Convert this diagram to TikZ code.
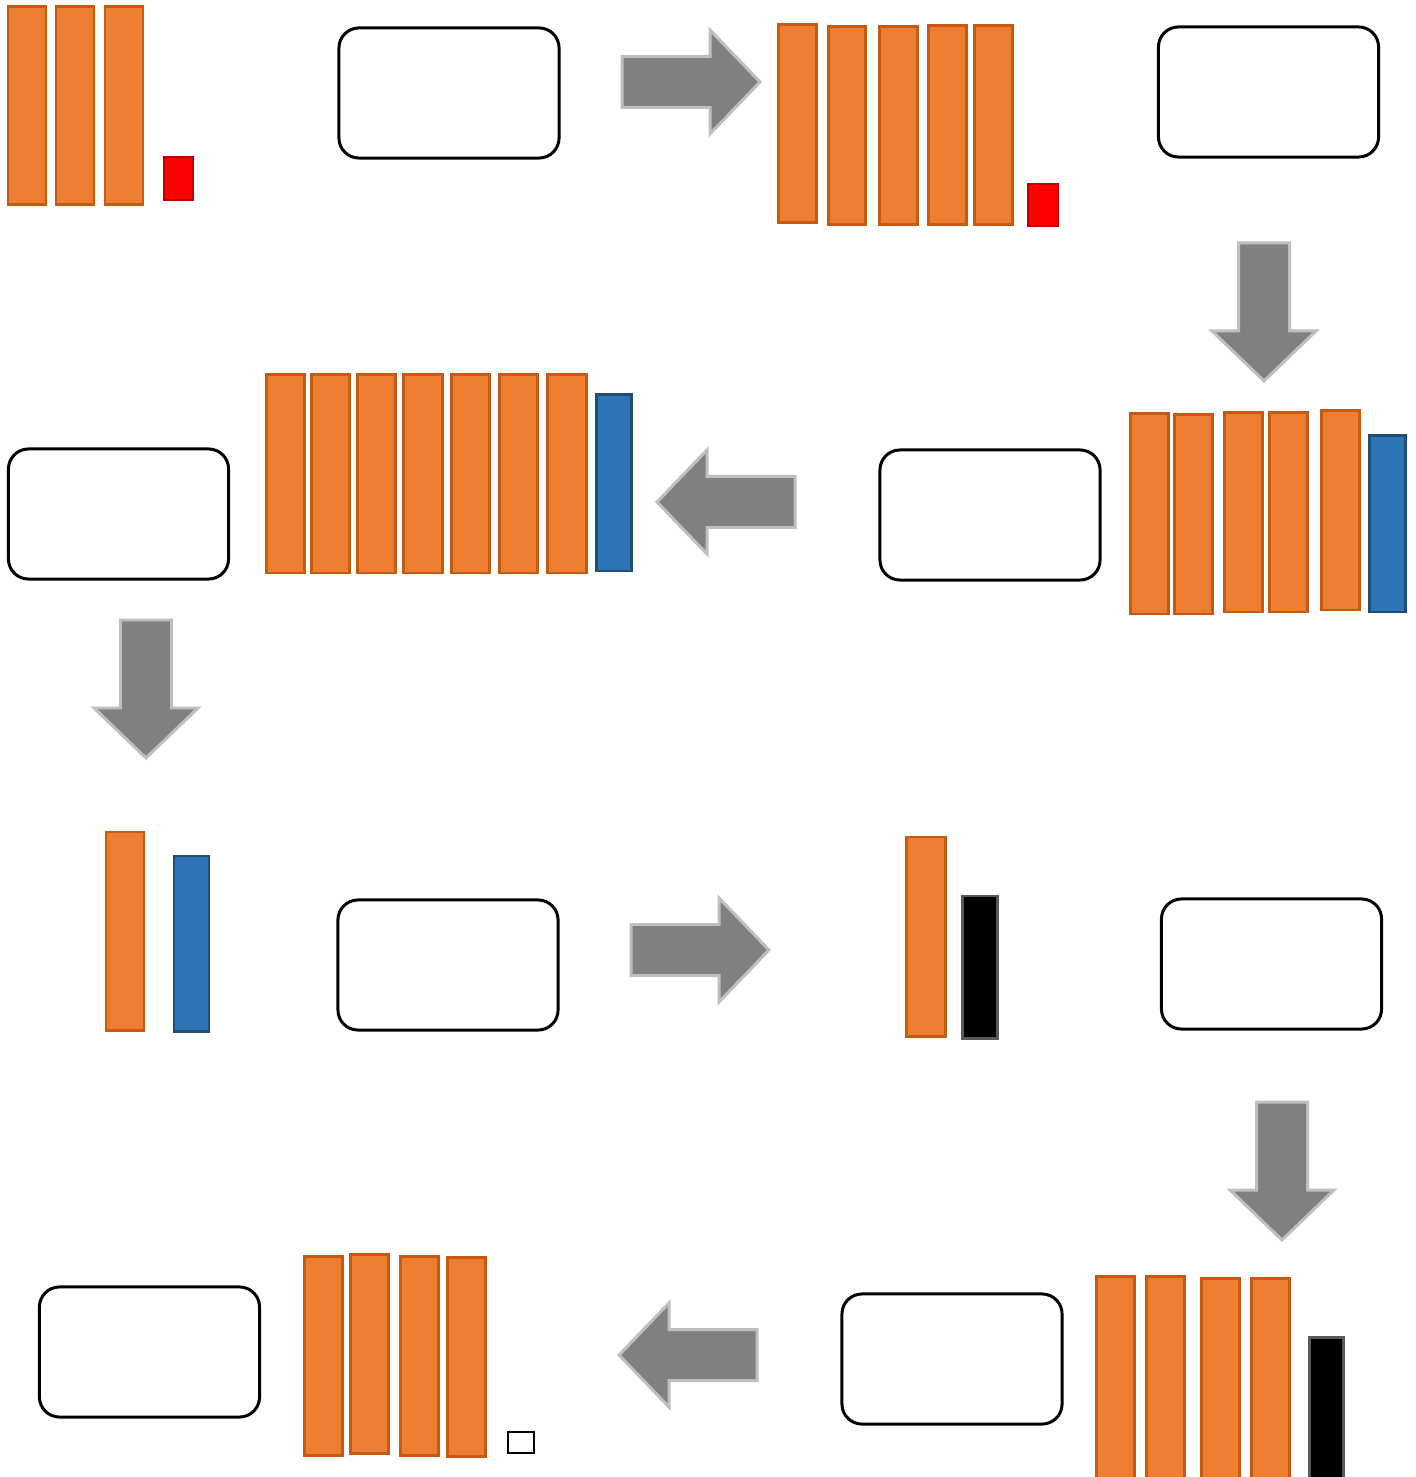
\documentclass[tikz,border=0pt]{standalone}
\usepackage{tikz}
\usetikzlibrary{positioning}
\definecolor{BarOrange}{HTML}{ED7D31}
\definecolor{BarOrangeEdge}{HTML}{C55A11}
\definecolor{BarBlue}{HTML}{2E75B6}
\definecolor{BarBlueEdge}{HTML}{1F4E79}
\definecolor{ArrowGray}{HTML}{808080}
\definecolor{ArrowEdge}{HTML}{BFBFBF}
\definecolor{MarkRed}{HTML}{FF0000}
\definecolor{MarkRedEdge}{HTML}{C00000}
\tikzset{barO/.style={fill=BarOrange,draw=BarOrangeEdge,line width=0.85pt}}
\tikzset{barB/.style={fill=BarBlue,draw=BarBlueEdge,line width=0.85pt}}
\tikzset{barK/.style={fill=black,draw=black!65,line width=0.85pt}}
\tikzset{markR/.style={fill=MarkRed,draw=MarkRedEdge,line width=0.6pt}}
\tikzset{markW/.style={fill=white,draw=black,line width=0.7pt}}
\tikzset{statebox/.style={draw,rounded corners=0.2cm,line width=0.85pt,minimum width=2.2cm,minimum height=1.3cm,inner sep=0pt}}
\tikzset{blockarrow/.pic={\path[fill=ArrowGray,draw=ArrowEdge,line width=0.85pt]
  (0,-25.5) -- (88,-25.5) -- (88,-52) -- (138,0) -- (88,52) -- (88,25.5) -- (0,25.5) -- cycle;}}
\begin{document}
\begin{tikzpicture}[x=0.01cm,y=-0.01cm]
  \useasboundingbox (0,0) rectangle (1415,1477);
  % boxes
  \node[statebox] (s1) at (449,93) {};
  \node[statebox] (s2) at (1268.5,92) {};
  \node[statebox] (s3) at (118.5,514) {};
  \node[statebox] (s4) at (990,515) {};
  \node[statebox] (s5) at (448,965) {};
  \node[statebox] (s6) at (1271.5,964) {};
  \node[statebox] (s7) at (149.5,1352) {};
  \node[statebox] (s8) at (952,1359) {};
  % arrows
  \pic at (622,82) {blockarrow};
  \pic[rotate=-90] at (1264,243) {blockarrow};
  \pic[rotate=180] at (795,502) {blockarrow};
  \pic[rotate=-90] at (146,620) {blockarrow};
  \pic at (631,950) {blockarrow};
  \pic[rotate=-90] at (1282,1102) {blockarrow};
  \pic[rotate=180] at (757,1355) {blockarrow};
  % row 1
  \foreach \xa/\xb in {8/46,56/94,105/143}
    \draw[barO] (\xa,7) rectangle (\xb,205);
  \draw[markR] (164,157) rectangle (193,200);
  \foreach \xa/\ya/\xb/\yb in {778/25/816/223,828/27/865/225,879/27/917/225,928/26/966/225,974/26/1012/225}
    \draw[barO] (\xa,\ya) rectangle (\xb,\yb);
  \draw[markR] (1028,184) rectangle (1058,226);
  % row 2
  \foreach \xa/\xb in {266/304,311/349,357/395,403/442,451/489,499/537,547/586}
    \draw[barO] (\xa,375) rectangle (\xb,573);
  \draw[barB] (596,395) rectangle (631,571);
  \foreach \xa/\ya/\xb/\yb in {1130/414/1168/614,1174/415/1212/614,1224/413/1262/612,1269/413/1307/612,1321/411/1359/610}
    \draw[barO] (\xa,\ya) rectangle (\xb,\yb);
  \draw[barB] (1369,436) rectangle (1405,612);
  % row 3
  \draw[barO] (106,832) rectangle (144,1030);
  \draw[barB] (174,856) rectangle (209,1031);
  \draw[barO] (906,837) rectangle (945,1036);
  \draw[barK] (962,896) rectangle (997,1038);
  % row 4
  \foreach \xa/\ya/\xb/\yb in {1096/1276/1134/1480,1146/1276/1184/1480,1201/1278/1239/1480,1251/1278/1289/1480}
    \draw[barO] (\xa,\ya) rectangle (\xb,\yb);
  \draw[barK] (1309,1337) rectangle (1343,1480);
  \foreach \xa/\ya/\xb/\yb in {304/1256/342/1455,350/1254/388/1453,400/1256/438/1455,447/1257/485/1456}
    \draw[barO] (\xa,\ya) rectangle (\xb,\yb);
  \draw[markW] (508,1432) rectangle (534,1453);
\end{tikzpicture}
\end{document}
